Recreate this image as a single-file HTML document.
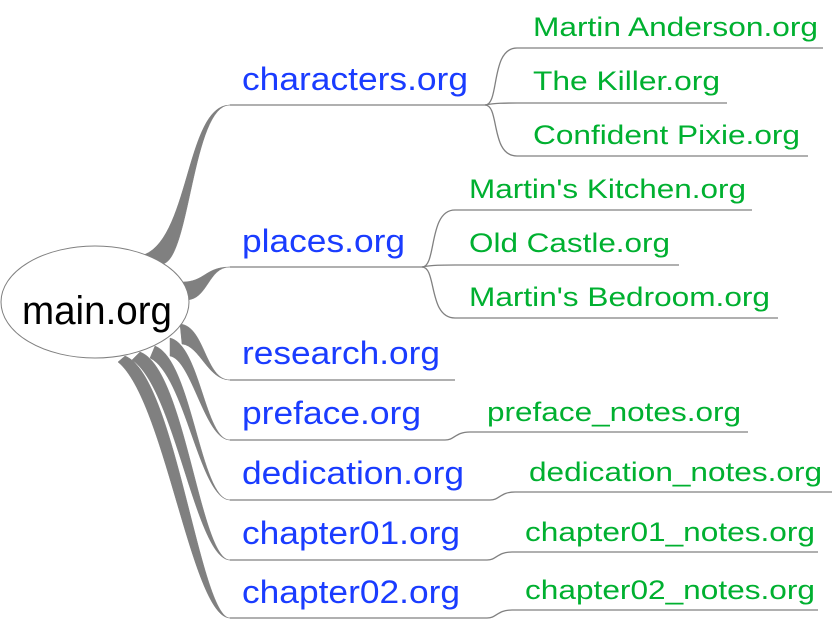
<!DOCTYPE html>
<html><head><meta charset="utf-8"><style>
html,body{margin:0;padding:0;background:#fff}
svg{display:block}
.b{font-family:"Liberation Sans",sans-serif;font-size:32px;fill:#1a3cff}
.g{font-family:"Liberation Sans",sans-serif;font-size:27px;fill:#00b030}
.l{stroke:#808080;stroke-width:1.3;fill:none}
.t{fill:#808080;stroke:#808080;stroke-width:0.5}
</style></head><body>
<svg width="832" height="619" viewBox="0 0 832 619" xmlns="http://www.w3.org/2000/svg">
<!-- thick branches -->
<path class="t" d="M140,256 C190,245 185,105 230,105 C192,105 190,262 162,264 Z"/>
<path class="t" d="M182,282 C205,282 205,267 230,267 C208,267 208,300 186,300 Z"/>
<path class="t" d="M180,324 C205,326 205,380 230,380 C208,380 200,346 182,344 Z"/>
<path class="t" d="M170,338 C200,345 205,440 230,440 C205,440 192,360 170,356 Z"/>
<path class="t" d="M155,346 C192,360 200,500 230,500 C200,500 185,375 150,358 Z"/>
<path class="t" d="M140,352 C185,368 200,560 230,560 C196,560 175,388 132,360 Z"/>
<path class="t" d="M125,356 C175,375 200,618 230,618 C192,618 165,400 118,362 Z"/>
<ellipse cx="95" cy="302" rx="94" ry="56" fill="#fff" stroke="#808080" stroke-width="1"/>
<text x="97" y="324" text-anchor="middle" font-family="Liberation Sans,sans-serif" font-size="40" fill="#000" textLength="150" lengthAdjust="spacingAndGlyphs">main.org</text>
<!-- underlines -->
<path class="l" d="M230,105 H485"/>
<path class="l" d="M485,105 C500,105 490,48 517,48 H823"/>
<path class="l" d="M485,105 C495,103 505,103 517,103 H727"/>
<path class="l" d="M485,105 C500,105 490,156 517,156 H808"/>
<path class="l" d="M230,267 H422"/>
<path class="l" d="M422,267 C437,267 428,210 455,210 H752"/>
<path class="l" d="M422,267 C432,265 442,265 455,265 H679"/>
<path class="l" d="M422,267 C437,267 428,318 455,318 H778"/>
<path class="l" d="M230,380 H455"/>
<path class="l" d="M230,440 H445 C455,440 455,432 470,432 H748"/>
<path class="l" d="M230,500 H490 C500,500 500,492 515,492 H832"/>
<path class="l" d="M230,560 H487 C497,560 497,552 512,552 H818"/>
<path class="l" d="M230,618 H487 C497,618 497,610 512,610 H818"/>
<!-- labels -->
<text class="b" x="242" y="90" textLength="226" lengthAdjust="spacingAndGlyphs">characters.org</text>
<text class="b" x="242" y="252" textLength="163" lengthAdjust="spacingAndGlyphs">places.org</text>
<text class="b" x="242" y="364" textLength="198" lengthAdjust="spacingAndGlyphs">research.org</text>
<text class="b" x="242" y="424" textLength="179" lengthAdjust="spacingAndGlyphs">preface.org</text>
<text class="b" x="242" y="484" textLength="222" lengthAdjust="spacingAndGlyphs">dedication.org</text>
<text class="b" x="242" y="544" textLength="218" lengthAdjust="spacingAndGlyphs">chapter01.org</text>
<text class="b" x="242" y="603" textLength="218" lengthAdjust="spacingAndGlyphs">chapter02.org</text>
<text class="g" x="533" y="36" textLength="285" lengthAdjust="spacingAndGlyphs">Martin Anderson.org</text>
<text class="g" x="533" y="90" textLength="187" lengthAdjust="spacingAndGlyphs">The Killer.org</text>
<text class="g" x="533" y="144" textLength="267" lengthAdjust="spacingAndGlyphs">Confident Pixie.org</text>
<text class="g" x="469" y="198" textLength="277" lengthAdjust="spacingAndGlyphs">Martin's Kitchen.org</text>
<text class="g" x="469" y="252" textLength="201" lengthAdjust="spacingAndGlyphs">Old Castle.org</text>
<text class="g" x="469" y="306" textLength="301" lengthAdjust="spacingAndGlyphs">Martin's Bedroom.org</text>
<text class="g" x="487" y="421" textLength="254" lengthAdjust="spacingAndGlyphs">preface_notes.org</text>
<text class="g" x="529" y="481" textLength="293" lengthAdjust="spacingAndGlyphs">dedication_notes.org</text>
<text class="g" x="525" y="541" textLength="290" lengthAdjust="spacingAndGlyphs">chapter01_notes.org</text>
<text class="g" x="525" y="599" textLength="290" lengthAdjust="spacingAndGlyphs">chapter02_notes.org</text>
</svg>
</body></html>
